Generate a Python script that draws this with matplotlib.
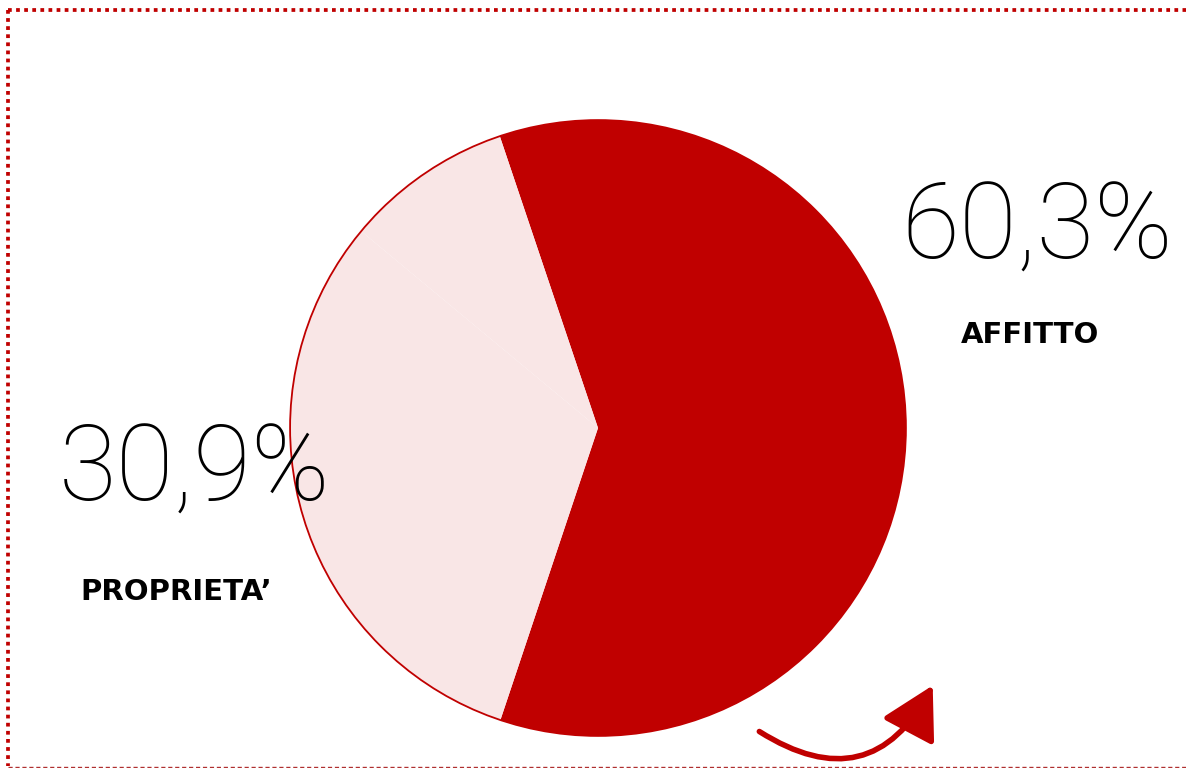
import matplotlib.pyplot as plt
from matplotlib.patches import FancyArrowPatch, Circle

# data
labels = ["AFFITTO", "PROPRIETA\u2019", "ALTRO"]
shares = [60.3, 30.9, 8.8]
colors = ["#C00000", "#F9E6E6", "#F9E6E6"]
shown = ["60,3%", "30,9%"]

RED = "#C00000"
W, H = 1186, 768

fig = plt.figure(figsize=(W / 100, H / 100), dpi=100)

# pie, centered at pixel (598, 428) with radius 311
cx, cy, r = 598, 428, 311
ax = fig.add_axes([(cx - r) / W, (H - cy - r) / H, 2 * r / W, 2 * r / H])
ax.pie(shares, colors=colors, startangle=108.6, counterclock=False,
       radius=1, wedgeprops=dict(linewidth=0))
ax.add_patch(Circle((0, 0), 1, fill=False, edgecolor=RED, linewidth=1.3))
ax.set_xlim(-1.01, 1.01)
ax.set_ylim(-1.01, 1.01)
ax.axis("off")

# overlay in pixel coords for text, frame, arrow
ov = fig.add_axes([0, 0, 1, 1], zorder=5)
ov.set_xlim(0, W)
ov.set_ylim(H, 0)
ov.axis("off")
ov.patch.set_alpha(0)

numfont = dict(family=["Roboto", "DejaVu Sans"], weight="light", fontsize=76, color="black")
labfont = dict(family=["DejaVu Sans"], weight="bold", fontsize=21, color="black")

ov.text(1037, 230, shown[0], ha="center", va="center", **numfont)
ov.text(1030, 335, labels[0], ha="center", va="center", **labfont)
ov.text(195, 472, shown[1], ha="center", va="center", **numfont)
ov.text(176, 592, labels[1], ha="center", va="center", **labfont)

# frame
ov.plot([8, W], [10, 10], color=RED, lw=2.7, linestyle=(0, (1.0, 1.16)))
ov.plot([8, 8], [10, 766], color=RED, lw=2.7, linestyle=(0, (1.0, 1.16)))
ov.plot([8, W], [766.5, 766.5], color="#B03030", lw=1.0, linestyle=(0, (3, 2)))

# arrow
arr = FancyArrowPatch((757, 730), (934, 683), connectionstyle="arc3,rad=0.55",
                      arrowstyle="-|>,head_length=16,head_width=9",
                      color=RED, lw=4, mutation_scale=2)
ov.add_patch(arr)

fig.savefig("out.png", dpi=100)
